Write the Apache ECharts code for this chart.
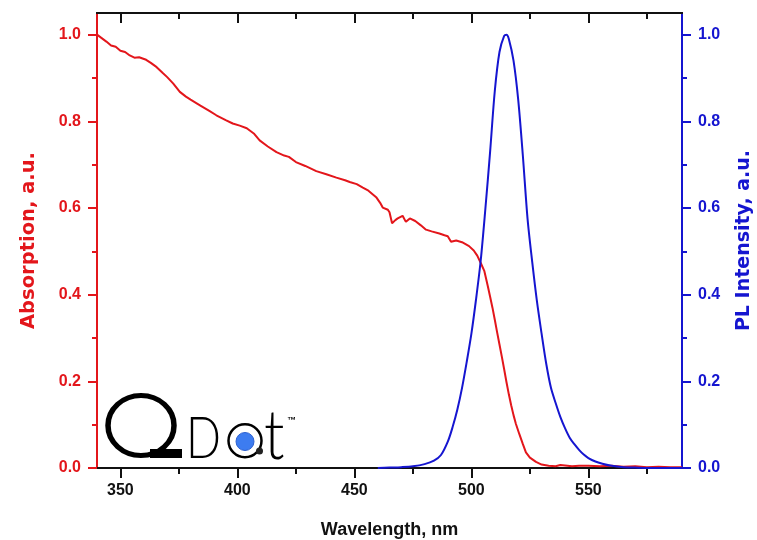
<!DOCTYPE html>
<html>
<head>
<meta charset="utf-8">
<script src="https://cdn.jsdelivr.net/npm/echarts@6/dist/echarts.min.js"></script>
<style>
  html, body { margin: 0; padding: 0; background: #fff; }
  #main { width: 757px; height: 540px; }
</style>
</head>
<body>
<div id="main"></div>
<script>
// absorption spectrum (red, left axis)
const absWavelength = [340, 342, 344, 346, 348, 350, 352, 354, 356, 358, 361, 363, 365.5, 368, 370, 372.6, 375.4, 378, 380, 384,
  388, 391, 395, 398, 401, 404, 407, 409.5, 413, 416.7, 420, 422, 425, 429, 433.7, 438, 442.3, 446, 448, 451,
  453.6, 456, 459.3, 461, 462.1, 464.3, 465, 466.1, 467.5, 468.5, 470.6, 472, 473.7, 476, 478.4, 480.6, 483, 486.3, 488.5, 489.9,
  491.3, 493.5, 496, 499, 501, 502.5, 504, 505.5, 507, 508, 509, 510, 511, 512, 513, 514, 515, 516, 517, 518,
  519, 520.5, 522, 523.3, 525, 527.6, 530, 533, 536, 538, 540, 543, 546, 550, 555, 560, 565, 570, 575, 580, 585, 590]
const absorption = [1.000, 0.992, 0.984, 0.975, 0.972, 0.963, 0.960, 0.952, 0.947, 0.948, 0.942, 0.935, 0.925, 0.912, 0.902, 0.887, 0.868, 0.857, 0.850, 0.837,
  0.824, 0.814, 0.803, 0.795, 0.790, 0.784, 0.772, 0.756, 0.742, 0.729, 0.721, 0.718, 0.706, 0.697, 0.685, 0.678, 0.670, 0.664, 0.660, 0.655,
  0.647, 0.640, 0.625, 0.612, 0.601, 0.596, 0.590, 0.565, 0.572, 0.576, 0.582, 0.568, 0.576, 0.570, 0.560, 0.550, 0.546, 0.541, 0.537, 0.535,
  0.522, 0.525, 0.521, 0.512, 0.502, 0.490, 0.473, 0.455, 0.420, 0.395, 0.370, 0.342, 0.313, 0.285, 0.257, 0.228, 0.198, 0.170, 0.145, 0.122,
  0.102, 0.078, 0.055, 0.036, 0.024, 0.014, 0.008, 0.005, 0.004, 0.007, 0.006, 0.004, 0.005, 0.005, 0.004, 0.005, 0.003, 0.004, 0.002, 0.003, 0.002, 0.002]

// photoluminescence (blue, right axis)
const plWavelength = [460, 465, 470, 475, 480, 484, 487, 490, 492, 494, 496, 498, 500, 502, 504, 506, 508, 510, 512, 514,
  515, 516, 518, 520, 522, 524, 526, 528, 530, 532, 534, 536, 538, 540, 542, 544, 546, 548, 550, 553, 556, 560, 565, 570, 580, 590]
const plIntensity = [0, 0.001, 0.002, 0.004, 0.009, 0.017, 0.030, 0.062, 0.095, 0.135, 0.185, 0.245, 0.310, 0.390, 0.480, 0.600, 0.730, 0.870, 0.960, 0.997,
  1.000, 0.990, 0.940, 0.850, 0.720, 0.575, 0.475, 0.385, 0.310, 0.240, 0.185, 0.150, 0.118, 0.092, 0.070, 0.055, 0.042, 0.031, 0.023, 0.015, 0.010, 0.005, 0.002, 0.001, 0, 0]

const xMajorTicks = [350, 400, 450, 500, 550]
const xMinorTicks = [375, 425, 475, 525, 575]
const yMajorTicks = [0, 0.2, 0.4, 0.6, 0.8, 1.0]
const yMinorTicks = [0.1, 0.3, 0.5, 0.7, 0.9]

const RED = '#e3161b'
const BLUE = '#1515d0'
const FONT = 'Liberation Sans, Arial, sans-serif'
const LOGO_FONT = '300 46px Lato, "Liberation Sans", sans-serif'

const absData = absWavelength.map((x, i) => [x, absorption[i]])
const plData = plWavelength.map((x, i) => [x, plIntensity[i]])

function xAxisDef(position, ticks, len, inside, extra) {
  return Object.assign({
    type: 'value', position: position, min: 340, max: 590,
    axisLine: { show: true, onZero: false, lineStyle: { color: '#111', width: 2 } },
    axisTick: { show: true, inside: inside, length: len, customValues: ticks, lineStyle: { color: '#111', width: 2 } },
    axisLabel: { show: false },
    splitLine: { show: false }
  }, extra || {})
}

function yAxisDef(position, color, ticks, len, extra) {
  return Object.assign({
    type: 'value', position: position, min: 0, max: 1.05,
    axisLine: { show: true, onZero: false, lineStyle: { color: color, width: 2 } },
    axisTick: { show: true, inside: false, length: len, customValues: ticks, lineStyle: { color: color, width: 2 } },
    axisLabel: { show: false },
    splitLine: { show: false }
  }, extra || {})
}

const option = {
  backgroundColor: '#fff',
  animation: false,
  grid: { left: 97, right: 75, top: 13, bottom: 72, outerBoundsMode: 'none', containLabel: false },
  xAxis: [
    xAxisDef('bottom', xMajorTicks, 10, false, {
      name: 'Wavelength, nm',
      nameLocation: 'middle',
      nameGap: 53,
      nameTextStyle: { color: '#111', fontSize: 18, fontWeight: 'bold', fontFamily: FONT },
      axisLabel: { show: true, customValues: xMajorTicks, margin: 15, color: '#111', fontSize: 16, fontWeight: 'bold', fontFamily: FONT }
    }),
    xAxisDef('bottom', xMinorTicks, 6, false),
    xAxisDef('top', xMajorTicks, 10, true),
    xAxisDef('top', xMinorTicks, 6, true)
  ],
  yAxis: [
    yAxisDef('left', RED, yMajorTicks, 9, {
      name: 'Absorption, a.u.',
      nameLocation: 'middle',
      nameRotate: 90,
      nameGap: 58,
      nameTextStyle: { color: RED, fontSize: 19.5, fontWeight: 'bold', fontFamily: 'DejaVu Sans, sans-serif' },
      axisLabel: {
        show: true, customValues: yMajorTicks, margin: 16, color: RED, fontSize: 16, fontWeight: 'bold', fontFamily: FONT,
        formatter: v => v.toFixed(1)
      }
    }),
    yAxisDef('left', RED, yMinorTicks, 5),
    yAxisDef('right', BLUE, yMajorTicks, 9, {
      name: 'PL Intensity, a.u.',
      nameLocation: 'middle',
      nameRotate: 90,
      nameGap: 53,
      nameTextStyle: { color: BLUE, fontSize: 19, fontWeight: 'bold', fontFamily: 'DejaVu Sans, sans-serif' },
      axisLabel: {
        show: true, customValues: yMajorTicks, margin: 16, color: BLUE, fontSize: 16, fontWeight: 'bold', fontFamily: FONT,
        formatter: v => v.toFixed(1)
      }
    }),
    yAxisDef('right', BLUE, yMinorTicks, 5)
  ],
  series: [
    {
      name: 'Absorption',
      type: 'line',
      xAxisIndex: 0,
      yAxisIndex: 0,
      data: absData,
      symbol: 'none',
      lineStyle: { color: RED, width: 2 },
      z: 3
    },
    {
      name: 'PL',
      type: 'line',
      xAxisIndex: 0,
      yAxisIndex: 2,
      data: plData,
      symbol: 'none',
      smooth: 0.3,
      lineStyle: { color: BLUE, width: 2 },
      z: 4
    }
  ],
  // QDot logo, bottom left
  graphic: [
    { type: 'circle', x: 141, y: 425.5, scaleX: 1.1, shape: { cx: 0, cy: 0, r: 30 }, style: { fill: 'none', stroke: '#000', lineWidth: 5, strokeNoScale: true }, z: 10 },
    { type: 'rect', shape: { x: 150, y: 449, width: 32, height: 9 }, style: { fill: '#000' }, z: 10 },
    { type: 'text', x: 186, y: 439, scaleY: 1.25, style: { text: 'D', font: LOGO_FONT, fill: '#000', verticalAlign: 'middle' }, z: 10 },
    { type: 'circle', shape: { cx: 245, cy: 440.8, r: 16.5 }, style: { fill: 'none', stroke: '#000', lineWidth: 2.5 }, z: 10 },
    { type: 'circle', shape: { cx: 245, cy: 441.5, r: 9 }, style: { fill: '#3d7cf0', stroke: '#2a5fd0', lineWidth: 1 }, z: 10 },
    { type: 'circle', shape: { cx: 259.5, cy: 451, r: 3.5 }, style: { fill: '#222' }, z: 10 },
    { type: 'text', x: 264, y: 437, scaleX: 1.3, scaleY: 1.5, style: { text: 't', font: LOGO_FONT, fill: '#000', verticalAlign: 'middle' }, z: 10 },
    { type: 'text', x: 287, y: 416, style: { text: '™', font: 'bold 9px "Liberation Sans", sans-serif', fill: '#000' }, z: 10 }
  ]
}

const myChart = echarts.init(document.getElementById('main'))
myChart.setOption(option)
</script>
</body>
</html>
